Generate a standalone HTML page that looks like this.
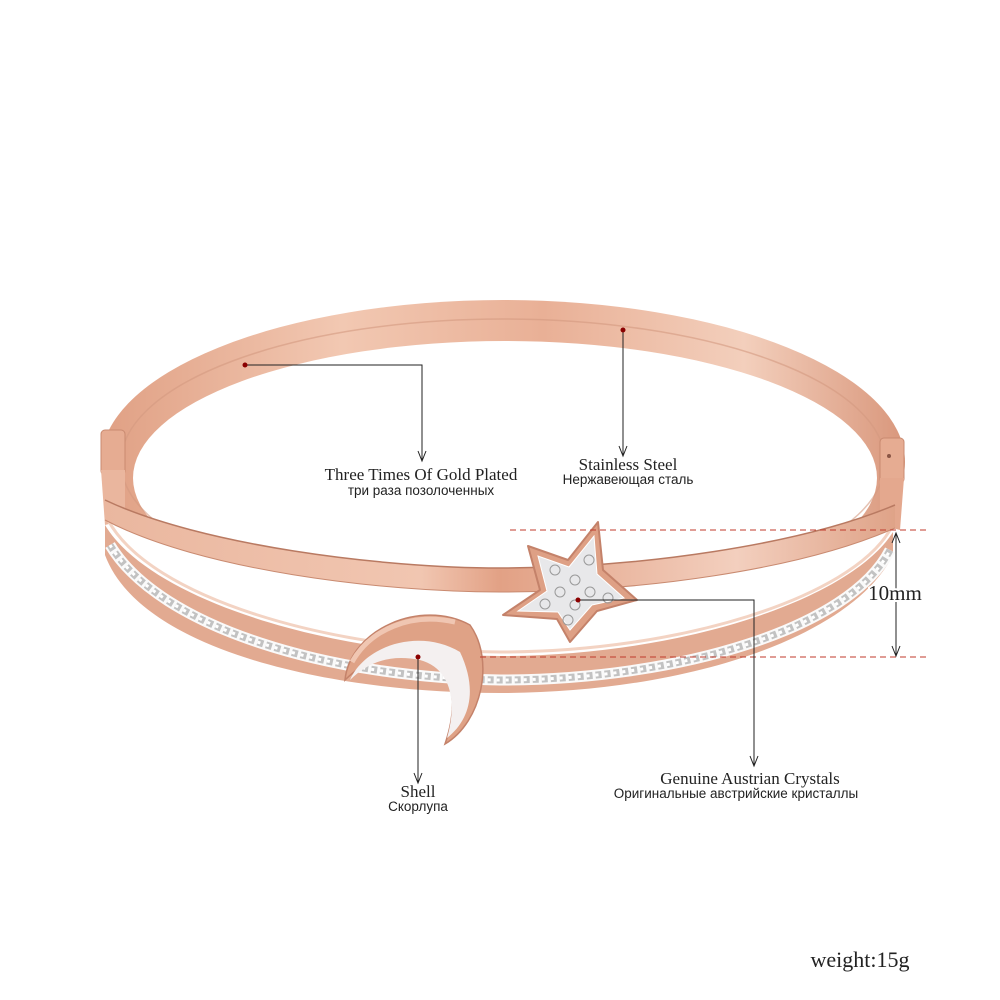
<!DOCTYPE html>
<html><head><meta charset="utf-8"><style>
html,body{margin:0;padding:0;background:#fff;}
svg{display:block}
</style></head><body>
<svg width="1000" height="1000" viewBox="0 0 1000 1000" xmlns="http://www.w3.org/2000/svg">
<defs>
<linearGradient id="g1" x1="0" y1="0" x2="1" y2="0">
<stop offset="0" stop-color="#e0a084"/><stop offset="0.3" stop-color="#f2c8b2"/><stop offset="0.55" stop-color="#e9b096"/><stop offset="0.8" stop-color="#f3cfbc"/><stop offset="1" stop-color="#d9977c"/>
</linearGradient>
<linearGradient id="g2" x1="0" y1="0" x2="1" y2="0">
<stop offset="0" stop-color="#eab79f"/><stop offset="0.4" stop-color="#f1c6b1"/><stop offset="0.5" stop-color="#e2a185"/><stop offset="0.8" stop-color="#f3cfbe"/><stop offset="1" stop-color="#dfa388"/>
</linearGradient>
<clipPath id="top"><rect x="0" y="0" width="1000" height="540"/></clipPath>
</defs>
<g clip-path="url(#top)">
<ellipse cx="503" cy="462" rx="402" ry="162" fill="url(#g1)"/>
<ellipse cx="505" cy="478" rx="372" ry="137" fill="#fff"/>
<ellipse cx="503" cy="462" rx="382" ry="143" fill="none" stroke="#d49a80" stroke-width="1.5" opacity="0.6"/>
</g>
<rect x="101" y="430" width="24" height="45" rx="4" fill="#e6ac92" stroke="#c98a70" stroke-width="1"/>
<rect x="880" y="438" width="24" height="45" rx="4" fill="#e6ac92" stroke="#c98a70" stroke-width="1"/>
<circle cx="889" cy="456" r="2" fill="#8a5544"/>
<path d="M101,470 L125,470 L125,520 L105,525 Z" fill="#eab69e"/>
<path d="M880,478 L904,478 L900,530 L880,525 Z" fill="#e4a88e"/>
<path d="M105,525 C150,600 330,655 500,656 C680,656 850,600 893,532 L893,555 C850,640 680,693 500,693 C330,693 140,650 105,555 Z" fill="#e2aa91"/>
<path d="M108,520 C150,598 330,650 500,652 C680,652 850,598 890,530" fill="none" stroke="#f3d3c3" stroke-width="3"/>
<path d="M110,545 C160,628 330,678 500,680 C680,680 850,628 890,550" fill="none" stroke="#fafafa" stroke-width="11"/>
<path d="M110,545 C160,628 330,678 500,680 C680,680 850,628 890,550" fill="none" stroke="#a9a9a9" stroke-width="7" stroke-dasharray="6 3" opacity="0.7"/>
<path d="M110,545 C160,628 330,678 500,680 C680,680 850,628 890,550" fill="none" stroke="#fff" stroke-width="3" stroke-dasharray="3 6"/>
<path d="M105,500 C200,545 380,568 500,568 C640,568 800,545 895,505 L895,528 C800,570 640,592 500,592 C380,592 200,570 105,520 Z" fill="url(#g2)"/>
<path d="M105,500 C200,545 380,568 500,568 C640,568 800,545 895,505" fill="none" stroke="#b97a62" stroke-width="1.5"/>
<path d="M105,520 C200,570 380,592 500,592 C640,592 800,570 895,528" fill="none" stroke="#c98a70" stroke-width="1"/>
<!-- star -->
<polygon points="598,522 603,570 637,600 597,611 570,642 557,619 503,615 540,590 528,546 568,560" fill="#dea085" stroke="#c4826a" stroke-width="2" stroke-linejoin="round"/>
<polygon points="594,536 597,574 624,598 592,605 570,630 558,612 518,611 547,591 538,556 569,567" fill="#e8e8ea" stroke="#fff" stroke-width="1"/>
<g fill="none" stroke="#9a9a9a" stroke-width="1">
<circle cx="575" cy="580" r="5"/><circle cx="560" cy="592" r="5"/><circle cx="590" cy="592" r="5"/><circle cx="575" cy="605" r="5"/><circle cx="545" cy="604" r="5"/><circle cx="608" cy="598" r="5"/><circle cx="555" cy="570" r="5"/><circle cx="589" cy="560" r="5"/><circle cx="568" cy="620" r="5"/>
</g>
<!-- moon -->
<path d="M345,680 C350,630 420,598 470,625 C495,660 482,722 445,744 C460,700 452,666 420,658 C390,652 365,660 345,680 Z" fill="#dfa286" stroke="#c4826a" stroke-width="1.5"/>
<path d="M350,680 C365,645 420,628 460,652 C478,690 470,720 447,738 C458,700 450,668 420,660 C390,654 368,662 350,680 Z" fill="#f4f0f0"/>
<path d="M352,662 C370,630 410,612 455,622" fill="none" stroke="#f0c6b2" stroke-width="5"/>
<line x1="510" y1="530" x2="930" y2="530" stroke="#c0392b" stroke-width="1" stroke-dasharray="6 4"/>
<line x1="480" y1="657" x2="930" y2="657" stroke="#c0392b" stroke-width="1" stroke-dasharray="6 4"/>
<line x1="896" y1="534" x2="896" y2="655" stroke="#222" stroke-width="1"/>
<path d="M892,543 L896,533 L900,543" fill="none" stroke="#222"/>
<path d="M892,646 L896,656 L900,646" fill="none" stroke="#222"/>
<g fill="none" stroke="#222" stroke-width="1">
<polyline points="245,365 422,365 422,460"/>
<path d="M418,451 L422,461 L426,451"/>
<line x1="623" y1="330" x2="623" y2="455"/>
<path d="M619,446 L623,456 L627,446"/>
<polyline points="578,600 754,600 754,765"/>
<path d="M750,756 L754,766 L758,756"/>
<line x1="418" y1="657" x2="418" y2="782"/>
<path d="M414,773 L418,783 L422,773"/>
</g>
<circle cx="245" cy="365" r="2.5" fill="#8b0000"/>
<circle cx="623" cy="330" r="2.5" fill="#8b0000"/>
<circle cx="578" cy="600" r="2.5" fill="#8b0000"/>
<circle cx="418" cy="657" r="2.5" fill="#8b0000"/>
<g fill="#222" text-anchor="middle">
<text x="421" y="480" font-family="Liberation Serif, serif" font-size="17">Three Times Of Gold Plated</text>
<text x="421" y="495" font-family="Liberation Sans, sans-serif" font-size="13.5">три раза позолоченных</text>
<text x="628" y="470" font-family="Liberation Serif, serif" font-size="17">Stainless Steel</text>
<text x="628" y="484" font-family="Liberation Sans, sans-serif" font-size="13.5">Нержавеющая сталь</text>
<text x="418" y="797" font-family="Liberation Serif, serif" font-size="17">Shell</text>
<text x="418" y="811" font-family="Liberation Sans, sans-serif" font-size="13.5">Скорлупа</text>
<text x="750" y="784" font-family="Liberation Serif, serif" font-size="17">Genuine Austrian Crystals</text>
<text x="736" y="798" font-family="Liberation Sans, sans-serif" font-size="13.5">Оригинальные австрийские кристаллы</text>
<text x="895" y="600" font-family="Liberation Serif, serif" font-size="21" fill="#222" stroke="#fff" stroke-width="4" paint-order="stroke">10mm</text>
<text x="860" y="967" font-family="Liberation Serif, serif" font-size="22">weight:15g</text>
</g>
</svg>
</body></html>
